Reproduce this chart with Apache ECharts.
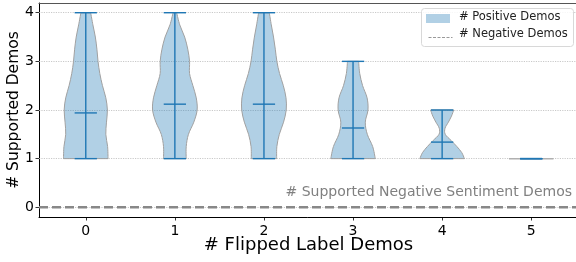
<!DOCTYPE html>
<html>
<head>
<meta charset="utf-8">
<script src="https://cdn.jsdelivr.net/npm/echarts@6/dist/echarts.min.js"></script>
<style>html,body{margin:0;padding:0;background:#fff;}#c{width:576px;height:262px;}</style>
</head>
<body>
<div id="c"></div>
<script>
// ---- data ----
const categories = [0, 1, 2, 3, 4, 5];
const xTicks = [0, 1, 2, 3, 4, 5];
const yTicks = [0, 1, 2, 3, 4];
const means = [1.94, 2.12, 2.12, 1.63, 1.34, 1.0];
const mins = [1, 1, 1, 1, 1, 1];
const maxs = [4, 4, 4, 3, 2, 1];
// density profile levels (y) and relative half-widths (0..1) per violin
const levels0 = [1, 1.25, 1.5, 1.75, 2, 2.25, 2.5, 2.75, 3, 3.25, 3.5, 3.75, 4];
const widths0 = [1.0, 0.98, 0.90, 0.93, 0.97, 0.90, 0.75, 0.63, 0.55, 0.50, 0.43, 0.32, 0.22];
const levels1 = [1, 1.25, 1.5, 1.75, 2, 2.25, 2.5, 2.75, 3, 3.25, 3.5, 3.75, 4];
const widths1 = [0.51, 0.51, 0.61, 0.85, 1.0, 0.96, 0.81, 0.66, 0.66, 0.58, 0.44, 0.22, 0.08];
const levels2 = [1, 1.25, 1.5, 1.75, 2, 2.25, 2.5, 2.75, 3, 3.25, 3.5, 3.75, 4];
const widths2 = [0.57, 0.58, 0.69, 0.88, 1.0, 0.99, 0.87, 0.70, 0.58, 0.51, 0.43, 0.33, 0.24];
const levels3 = [1, 1.25, 1.5, 1.75, 2, 2.25, 2.5, 2.75, 3];
const widths3 = [1.0, 0.88, 0.64, 0.55, 0.67, 0.63, 0.43, 0.30, 0.25];
const levels4 = [1, 1.125, 1.25, 1.375, 1.5, 1.625, 1.75, 1.875, 2];
const widths4 = [1.0, 0.88, 0.66, 0.40, 0.14, 0.13, 0.28, 0.42, 0.52];
const levels5 = [1];
const widths5 = [1.0];
const violinLevels = [levels0, levels1, levels2, levels3, levels4, levels5];
const violinWidths = [widths0, widths1, widths2, widths3, widths4, widths5];

const HALF = 0.25;   // max half-width of a violin (x units)
const CAP = 0.125;   // half-width of the min/max/mean bars
const XMIN = -0.525, XMAX = 5.525;
const FONT = 'DejaVu Sans';
const C0 = '#1f77b4';
const FILL = 'rgba(31,119,180,0.35)';

function f(v) { return v.toFixed(2); }
function crSegs(pts) {
  let d = '';
  for (let k = 0; k < pts.length - 1; k++) {
    const p0 = pts[k - 1] || pts[k], p1 = pts[k], p2 = pts[k + 1], p3 = pts[k + 2] || pts[k + 1];
    const c1 = [p1[0] + (p2[0] - p0[0]) / 6, p1[1] + (p2[1] - p0[1]) / 6];
    const c2 = [p2[0] - (p3[0] - p1[0]) / 6, p2[1] - (p3[1] - p1[1]) / 6];
    d += ' C' + f(c1[0]) + ' ' + f(c1[1]) + ' ' + f(c2[0]) + ' ' + f(c2[1]) + ' ' + f(p2[0]) + ' ' + f(p2[1]);
  }
  return d;
}

function renderViolin(params, api) {
  const idx = params.dataIndex;
  const x = api.value(0), mean = api.value(1), lo = api.value(2), hi = api.value(3);
  const lv = violinLevels[idx], wd = violinWidths[idx];
  const children = [];
  if (lv.length > 1) {
    const right = lv.map((y, k) => api.coord([x + wd[k] * HALF, y]));
    const left = lv.map((y, k) => api.coord([x - wd[k] * HALF, y])).reverse();
    const d = 'M' + f(right[0][0]) + ' ' + f(right[0][1]) + crSegs(right) +
      ' L' + f(left[0][0]) + ' ' + f(left[0][1]) + crSegs(left) + ' Z';
    children.push({ type: 'path', shape: { pathData: d }, style: { fill: FILL, stroke: '#a0a0a0', lineWidth: 1 } });
  } else {
    const a = api.coord([x - wd[0] * HALF, lv[0]]), b = api.coord([x + wd[0] * HALF, lv[0]]);
    children.push({ type: 'line', shape: { x1: a[0], y1: a[1], x2: b[0], y2: b[1] }, style: { stroke: '#b0b0b0', lineWidth: 1.5 } });
  }
  const pLo = api.coord([x, lo]), pHi = api.coord([x, hi]);
  children.push({ type: 'line', shape: { x1: pLo[0], y1: pLo[1], x2: pHi[0], y2: pHi[1] }, style: { stroke: C0, lineWidth: 1.4 } });
  [lo, hi, mean].forEach(v => {
    const a = api.coord([x - CAP, v]), b = api.coord([x + CAP, v]);
    children.push({ type: 'line', shape: { x1: a[0], y1: a[1], x2: b[0], y2: b[1] }, style: { stroke: C0, lineWidth: 1.4 } });
  });
  return { type: 'group', children: children };
}

const chart = echarts.init(document.getElementById('c'), null, { renderer: 'canvas' });
const option = {
  animation: false,
  textStyle: { fontFamily: FONT },
  grid: { left: 39, top: 3, width: 539, height: 214, containLabel: false, outerBoundsMode: 'none' },
  xAxis: [{
    type: 'value', min: XMIN, max: XMAX, position: 'bottom',
    name: '# Flipped Label Demos', nameLocation: 'middle', nameGap: 19, nameMoveOverlap: false,
    nameTextStyle: { fontSize: 18, color: '#000', fontFamily: FONT },
    axisLine: { show: true, onZero: false, lineStyle: { color: '#000', width: 1 } },
    axisTick: { show: true, length: 3.5, customValues: xTicks, lineStyle: { color: '#000', width: 0.8 } },
    axisLabel: { show: true, customValues: xTicks, margin: 7, fontSize: 14, color: '#000', fontFamily: FONT },
    splitLine: { show: false }
  }, {
    type: 'value', min: XMIN, max: XMAX, position: 'top',
    axisLine: { show: true, onZero: false, lineStyle: { color: '#555', width: 1.2 } },
    axisTick: { show: false }, axisLabel: { show: false }, splitLine: { show: false }
  }],
  yAxis: {
    type: 'value', min: -0.2, max: 4.2,
    name: '# Supported Demos', nameLocation: 'middle', nameGap: 17, nameMoveOverlap: false,
    nameTextStyle: { fontSize: 15.5, color: '#000', fontFamily: FONT },
    axisLine: { show: true, onZero: false, lineStyle: { color: '#000', width: 1 } },
    axisTick: { show: true, length: 3.5, customValues: yTicks, lineStyle: { color: '#000', width: 0.8 } },
    axisLabel: { show: true, customValues: yTicks, margin: 5, fontSize: 14, color: '#000', fontFamily: FONT },
    splitLine: { show: false }
  },
  series: [{
    name: '# Negative Demos',
    type: 'line',
    z: 2,
    data: [[XMIN, 0], [XMAX, 0]],
    showSymbol: false, symbol: 'none',
    lineStyle: { color: '#888888', width: 2.5, type: [9, 4] },
    markLine: {
      z: 1, silent: true, symbol: ['none', 'none'], label: { show: false },
      lineStyle: { color: '#bbbbbb', width: 0.8, type: [1.2, 1.2] },
      data: yTicks.map(v => ({ yAxis: v }))
    }
  }, {
    name: '# Positive Demos',
    type: 'custom',
    z: 3,
    renderItem: renderViolin,
    data: categories.map((c, i) => [c, means[i], mins[i], maxs[i]])
  }],
  graphic: [
    { type: 'text', right: 4, top: 185, style: { text: '# Supported Negative Sentiment Demos', font: '14px "DejaVu Sans"', fill: '#808080' } },
    { type: 'rect', left: 421, top: 8, shape: { width: 152, height: 38, r: 3 }, style: { fill: 'rgba(255,255,255,0.85)', stroke: '#d8d8d8', lineWidth: 1 }, z: 10 },
    { type: 'rect', left: 426, top: 14, shape: { width: 24, height: 9 }, style: { fill: FILL }, z: 11 },
    { type: 'line', left: 426, top: 35, shape: { x1: 0, y1: 0, x2: 24, y2: 0 }, style: { stroke: '#999', lineWidth: 1, lineDash: [3, 1.5] }, z: 11 },
    { type: 'text', left: 459, top: 11, style: { text: '# Positive Demos', font: '11.5px "DejaVu Sans"', fill: '#222' }, z: 11 },
    { type: 'text', left: 459, top: 28, style: { text: '# Negative Demos', font: '11.5px "DejaVu Sans"', fill: '#222' }, z: 11 }
  ]
};
chart.setOption(option);
</script>
</body>
</html>
